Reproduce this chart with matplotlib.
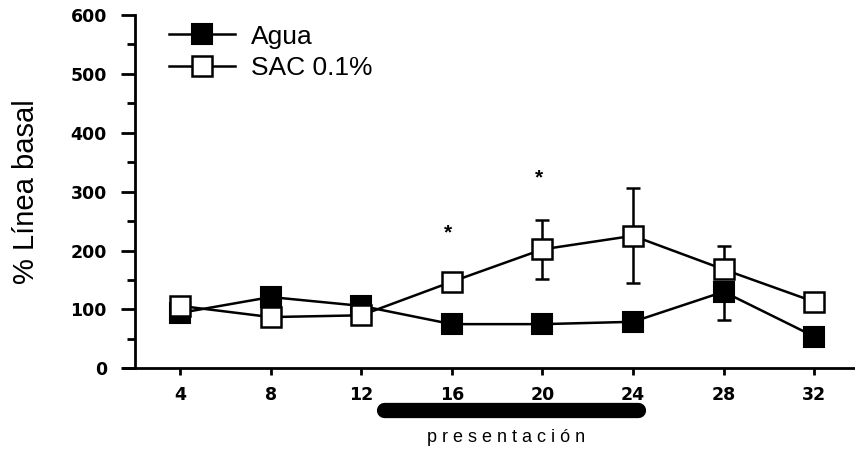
import matplotlib.pyplot as plt
from matplotlib.ticker import MultipleLocator

# horas de registro
horas = [4, 8, 12, 16, 20, 24, 28, 32]

# % de la linea basal
agua = [94, 121, 106, 75, 75, 79, 130, 54]
sac = [106, 87, 90, 147, 202, 225, 168, 113]

# error estandar (abajo, arriba)
agua_err_lo = [0, 0, 0, 0, 0, 0, 48, 0]
agua_err_hi = [0, 0, 0, 0, 0, 0, 0, 0]
sac_err_lo = [0, 0, 0, 15, 50, 80, 0, 0]
sac_err_hi = [0, 0, 0, 15, 50, 82, 40, 0]

# diferencias significativas
sig_x = [16, 20]
sig_y = [230, 323]

# periodo de presentacion
pres_inicio, pres_fin = 13, 24.2

plt.rcParams['font.family'] = ['Liberation Sans', 'DejaVu Sans']

fig = plt.figure(figsize=(8.55, 4.49), dpi=100)
ax = fig.add_axes([0.1443, 0.1797, 0.8557, 0.787])

# barras de error debajo de los marcadores
ax.errorbar(horas, agua, yerr=[agua_err_lo, agua_err_hi], fmt='none',
            ecolor='black', elinewidth=1.8, capsize=5, capthick=1.8, zorder=2)
ax.errorbar(horas, sac, yerr=[sac_err_lo, sac_err_hi], fmt='none',
            ecolor='black', elinewidth=1.8, capsize=5, capthick=1.8, zorder=2)

ax.plot(horas, agua, '-s', color='black', lw=1.8, ms=15, mfc='black',
        mec='black', mew=1.5, label='Agua', zorder=3)
ax.plot(horas, sac, '-s', color='black', lw=1.8, ms=15, mfc='white',
        mec='black', mew=1.8, label='SAC 0.1%', zorder=4)

for x, y in zip(sig_x, sig_y):
    ax.text(x - 0.15, y, '*', ha='center', va='center', fontsize=15,
            fontweight='bold')

ax.set_xlim(1.5, 33.8)
ax.set_ylim(0, 600)

ax.spines['top'].set_visible(False)
ax.spines['right'].set_visible(False)
ax.spines['left'].set_position(('data', 2))
ax.spines['left'].set_bounds(0, 600)
ax.spines['left'].set_linewidth(2)
ax.spines['bottom'].set_linewidth(2)

ax.set_xticks(horas)
ax.yaxis.set_major_locator(MultipleLocator(100))
ax.yaxis.set_minor_locator(MultipleLocator(50))
ax.tick_params(axis='y', which='major', length=10, width=2, pad=10)
ax.tick_params(axis='y', which='minor', length=6, width=2)
ax.tick_params(axis='x', length=5, width=2, pad=8)
for lab in ax.get_xticklabels() + ax.get_yticklabels():
    lab.set_fontfamily('DejaVu Sans')
    lab.set_fontweight('bold')
    lab.set_fontsize(12.5)

ax.set_ylabel('% Línea basal', fontsize=21, labelpad=22)

# barra de presentacion bajo el eje
ax.plot([pres_inicio, pres_fin], [-71, -71], color='black', lw=11,
        solid_capstyle='round', clip_on=False)
ax.text((pres_inicio + pres_fin) / 2 - 0.2, -118, 'p r e s e n t a c i ó n',
        ha='center', va='center', fontsize=13)

leg = ax.legend(loc='upper left', bbox_to_anchor=(0.03, 1.04), frameon=False,
                fontsize=19, handlelength=2.5, handletextpad=0.6,
                labelspacing=0.3, markerscale=1.0)

fig.savefig('out.png', dpi=100)
